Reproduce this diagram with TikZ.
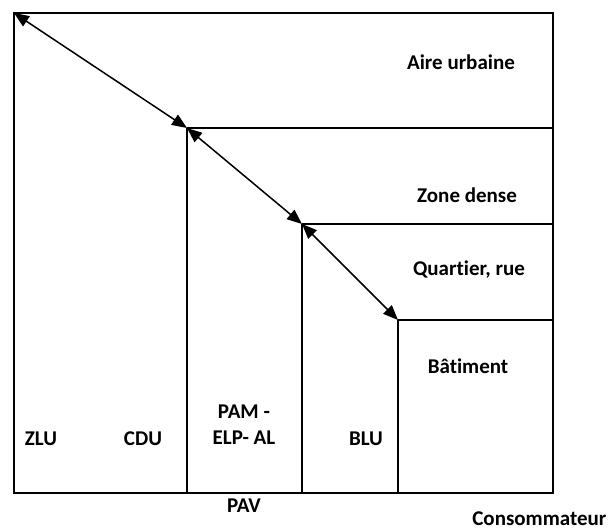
\documentclass[tikz,border=0pt]{standalone}
\usepackage{fontspec}
\setmainfont[Ligatures=NoCommon]{Carlito}
\usetikzlibrary{positioning, calc}
\usetikzlibrary{arrows.meta}

\begin{document}
\begin{tikzpicture}[x=1pt, y=-1pt, font=\fontsize{21}{26}\selectfont\bfseries, align=center, >={Triangle[length=15pt, width=12pt]}, line width=1.3pt]
        \useasboundingbox (0,0) rectangle (608,531);

        % Corners
        \coordinate (c0) at (14,13);
        \coordinate (c1) at (187,128);
        \coordinate (c2) at (302,224);
        \coordinate (c3) at (398,320);
        \coordinate (right) at (553,493);

        % Frames
        \draw[line width=2pt] (c0) rectangle (right);
        \draw (c1) -| (right);
        \draw (c2) -| (right);
        \draw (c3) -| (right);
        \draw (c1) -- (c1 |- right);
        \draw (c2) -- (c2 |- right);
        \draw (c3) -- (c3 |- right);

        % Labels
        \node (aire) at (461,62) {Aire urbaine};
        \node (dense) at (467,195) {Zone dense};
        \node (rue) at (469,270) {Quartier, rue};
        \node (bat) at (468,366) {Bâtiment};
        \node (zlu) at (41,439) {ZLU};
        \node (cdu) at (143,439) {CDU};
        \node (pam) at (244,425) {PAM -\\ELP- AL};
        \node (blu) at (366,439) {BLU};
        \node (pav) at (244,506) {PAV};
        \node[anchor=east, inner sep=0pt] (cons) at (607,519) {Consommateur};

        % Arrows
        \draw[<->, line width=1.5pt] (c0) -- (c1);
        \draw[<->, line width=1.5pt] (c1) -- (c2);
        \draw[<->, line width=1.5pt] (c2) -- (c3);
    \end{tikzpicture}
\end{document}
